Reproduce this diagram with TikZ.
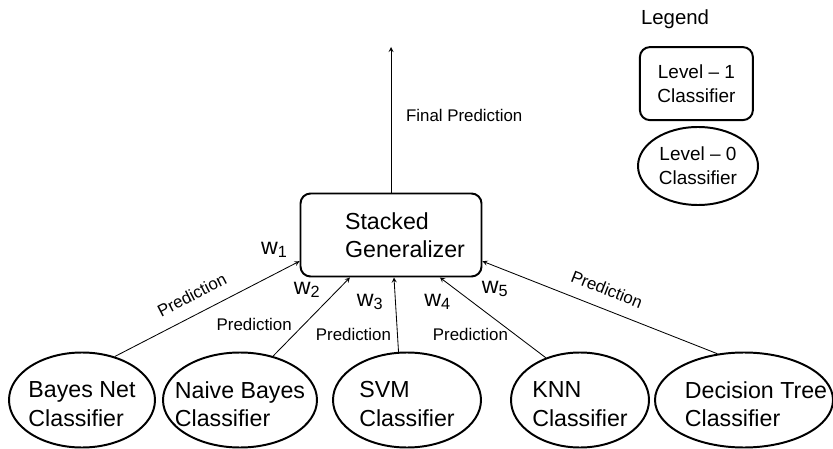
\documentclass[tikz,border=0pt]{standalone}
\usepackage{fontspec}
\setmainfont{Liberation Sans}
\usepackage{tikz}
\usetikzlibrary{positioning, shapes.geometric}
\tikzset{
	arrow/.style={->, >=stealth, line width=0.6pt},
	level1/.style={draw, rounded corners=0.25cm, line width=1.4pt, inner sep=0pt},
	level0/.style={draw, ellipse, line width=1.4pt, inner sep=0pt, minimum height=2.375cm},
	cls/.style={align=left, font=\fontsize{16.5}{20.2}\selectfont},
	small cls/.style={align=center, font=\fontsize{13.5}{17}\selectfont},
	pred/.style={font=\fontsize{12}{14}\selectfont},
	weight/.style={font=\fontsize{16.5}{20}\selectfont, inner sep=0pt},
}

\begin{document}
\begin{tikzpicture}
		\useasboundingbox (0,0) rectangle (20.825,11.2);

		% Level 1
		\node[level1, minimum width=4.525cm, minimum height=2.075cm, label={[cls, xshift=0.35cm]center:Stacked\\Generalizer}] (sg) at (9.775,5.325) {};
		\coordinate (final) at (9.775,10.025);
		\draw[arrow] (sg.north) -- (final) node[pos=0.53, right, xshift=0.25cm, pred] {Final Prediction};

		% Level 0
		\node[level0, minimum width=3.65cm, label={[cls, yshift=-0.1cm]center:Bayes Net\\Classifier}] (bn) at (2.05,1.2) {};
		\node[level0, minimum width=3.85cm, label={[cls, yshift=-0.1cm]center:Naive Bayes\\Classifier}] (nb) at (6.0,1.2) {};
		\node[level0, minimum width=3.7cm, label={[cls, yshift=-0.1cm]center:SVM\\Classifier}] (svm) at (10.175,1.2) {};
		\node[level0, minimum width=3.45cm, label={[cls, yshift=-0.1cm]center:KNN\\Classifier}] (knn) at (14.5,1.2) {};
		\node[level0, minimum width=4.45cm, label={[cls, xshift=0.3cm, yshift=-0.1cm]center:Decision Tree\\Classifier}] (dt) at (18.6,1.2) {};

		\draw[arrow] (bn.53) -- (sg.196) node[pos=0.465, sloped, above, yshift=0.2cm, pred] {Prediction};
		\draw[arrow] (nb.53) -- (sg.226) node[pos=0.4, left=0.175cm, pred] {Prediction};
		\draw[arrow] (svm.100) -- (sg.274) node[pos=0.24, left=0.035cm, pred] {Prediction};
		\draw[arrow] (knn.129) -- (sg.319) node[pos=0.29, left=0.05cm, pred] {Prediction};
		\draw[arrow] (dt.120) -- (sg.344) node[midway, sloped, above, yshift=0.2cm, pred] {Prediction};

		% Weights
		\node[weight] (w1) at (6.86,4.95) {w\textsubscript{1}};
		\node[weight] (w2) at (7.675,3.95) {w\textsubscript{2}};
		\node[weight] (w3) at (9.25,3.65) {w\textsubscript{3}};
		\node[weight] (w4) at (10.94,3.65) {w\textsubscript{4}};
		\node[weight] (w5) at (12.375,3.975) {w\textsubscript{5}};

		% Legend
		\node[font=\fontsize{14.5}{17}\selectfont] (legend) at (16.875,10.725) {Legend};
		\node[level1, small cls, minimum width=2.825cm, minimum height=1.825cm] (lev1) at (17.41,9.11) {Level -- 1\\Classifier};
		\node[level0, small cls, minimum width=3.0cm, minimum height=1.95cm] (lev0) at (17.45,7.05) {Level -- 0\\Classifier};
	\end{tikzpicture}
\end{document}
